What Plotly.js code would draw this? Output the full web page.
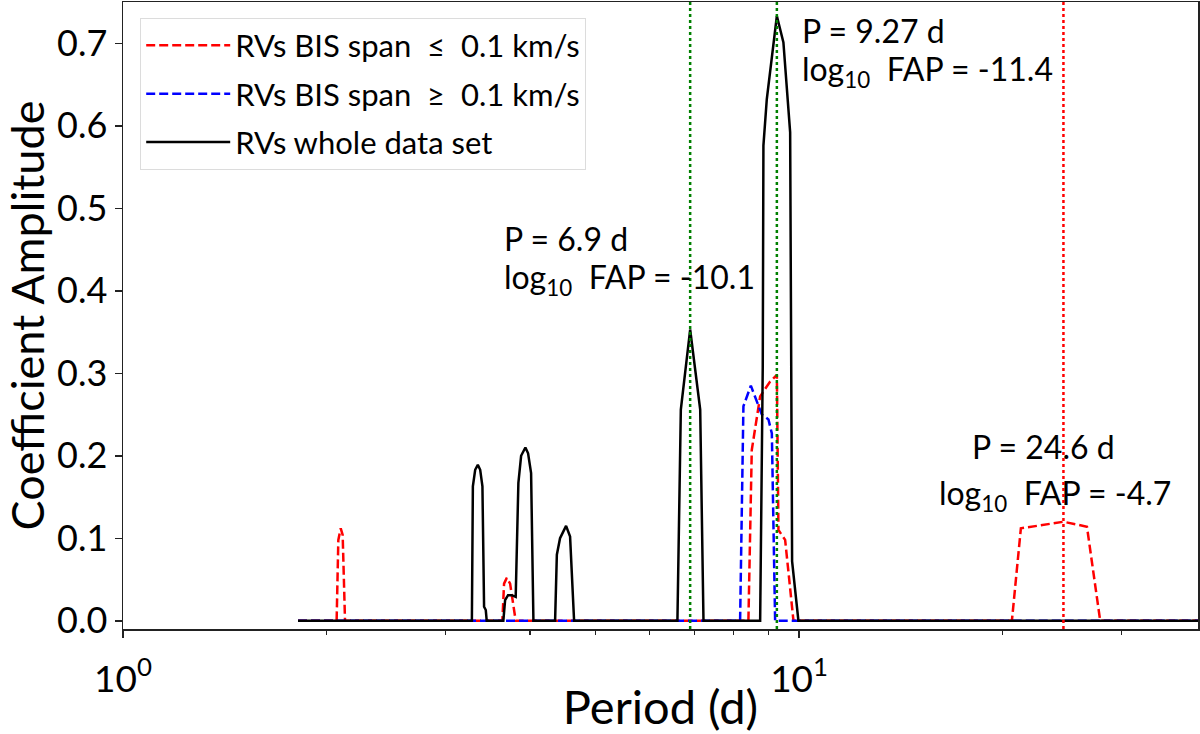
<!DOCTYPE html>
<html>
<head>
<meta charset="utf-8">
<script src="https://cdn.plot.ly/plotly-3.0.1.min.js"></script>
<style>
  html, body { margin: 0; padding: 0; background: #fff; }
  #myDiv { width: 1200px; height: 734px; }
</style>
</head>
<body>
<div id="myDiv"></div>
<script>
// periods (d) and coefficient amplitudes

// RVs whole data set (black)
let wholePeriod = [1.815, 3.281, 3.292, 3.318, 3.348, 3.375, 3.401, 3.420, 3.440, 3.451,
  3.652, 3.674, 3.711, 3.758, 3.809, 3.844, 3.880, 3.937, 3.973, 4.014, 4.046,
  4.356, 4.382, 4.430, 4.522, 4.584, 4.647,
  6.607, 6.684, 6.90, 7.140, 7.22,
  8.757, 8.835, 8.855, 8.957, 9.27, 9.479, 9.699, 9.748, 9.764, 9.976, 38.9];
let wholeAmp = [0, 0, 0.163, 0.183, 0.189, 0.183, 0.163, 0.017, 0.013, 0,
  0, 0.025, 0.031, 0.031, 0.029, 0.167, 0.200, 0.210, 0.203, 0.179, 0,
  0, 0.080, 0.100, 0.115, 0.102, 0,
  0, 0.256, 0.353, 0.256, 0,
  0, 0.308, 0.576, 0.632, 0.733, 0.701, 0.592, 0.300, 0.072, 0, 0];

// RVs BIS span <= 0.1 km/s (red)
let lowPeriod = [1.815, 2.070, 2.082, 2.099, 2.113, 2.130,
  3.640, 3.661, 3.695, 3.737, 3.809,
  8.414, 8.511, 8.757, 9.060, 9.27, 9.32, 9.535, 9.809,
  20.64, 21.28, 24.6, 26.65, 27.88, 38.9];
let lowAmp = [0, 0, 0.098, 0.112, 0.104, 0,
  0, 0.045, 0.052, 0.045, 0,
  0, 0.207, 0.272, 0.290, 0.298, 0.110, 0.098, 0,
  0, 0.112, 0.120, 0.114, 0, 0];

// RVs BIS span >= 0.1 km/s (blue)
let highPeriod = [1.815, 8.179, 8.272, 8.484, 8.807, 9.008, 9.113, 9.215, 38.9];
let highAmp = [0, 0, 0.26, 0.285, 0.25, 0.244, 0.227, 0, 0];

// detected periods (vertical dotted lines)
let peakPeriods = [6.9, 9.27, 24.6];
let peakColors = ["#008000", "#008000", "#ff0000"];
let peakLine1 = ["P = 6.9 d", "P = 9.27 d", "P = 24.6 d"];
let peakLine2 = ["log<sub>10</sub>  FAP = -10.1", "log<sub>10</sub>  FAP = -11.4", "log<sub>10</sub>  FAP = -4.7"];

let legendNames = [
  "RVs BIS span \u00a0\u2264\u00a0 0.1 km/s",
  "RVs BIS span \u00a0\u2265\u00a0 0.1 km/s",
  "RVs whole data set",
];

let yMin = -0.01;
let yMax = 0.75;
let font = "Lato, 'Open Sans', sans-serif";

let data = [
  {
    x: lowPeriod, y: lowAmp, name: legendNames[0], legendgroup: "a",
    mode: "lines", type: "scatter",
    line: { color: "#ff0000", width: 2.5, dash: "9px,4px" },
  },
  {
    x: highPeriod, y: highAmp, name: legendNames[1], legendgroup: "b",
    mode: "lines", type: "scatter",
    line: { color: "#0000ff", width: 2.5, dash: "9px,4px" },
  },
  {
    x: wholePeriod, y: wholeAmp, name: legendNames[2], legendgroup: "c",
    mode: "lines", type: "scatter",
    line: { color: "#000000", width: 2.5 },
  },
];

// vertical markers at the detected periods
peakPeriods.forEach((p, i) => {
  data.push({
    x: [p, p], y: [yMin, yMax],
    mode: "lines", type: "scatter", showlegend: false,
    line: { color: peakColors[i], width: 2.5, dash: "dot" },
  });
});

// annotation positions: [log10 x line1, y line1, y line2, anchor, log10 x line2]
let notePos = [
  [0.5602, 0.4631, 0.4137, "left", 0.5602],
  [1.002, 0.7149, 0.6663, "left", 1.002],
  [1.3614, 0.2113, 0.1526, "center", 1.3787],
];

let annotations = [];
notePos.forEach((pos, i) => {
  annotations.push({
    x: pos[0], y: pos[1], xref: "x", yref: "y", text: peakLine1[i],
    showarrow: false, xanchor: pos[3], yanchor: "middle",
    font: { family: font, size: 32, color: "#000" },
  });
  annotations.push({
    x: pos[4], y: pos[2], xref: "x", yref: "y", text: peakLine2[i],
    showarrow: false, xanchor: pos[3], yanchor: "middle",
    font: { family: font, size: 32, color: "#000" },
  });
});

let layout = {
  width: 1200,
  height: 734,
  margin: { l: 123, r: 2, t: 2, b: 105 },
  paper_bgcolor: "#fff",
  plot_bgcolor: "#fff",
  font: { family: font, color: "#000" },
  showlegend: true,
  hovermode: false,
  xaxis: {
    type: "log",
    range: [0, Math.log10(38.9)],
    tickmode: "array",
    tickvals: [1, 10],
    ticktext: ["10<sup>0</sup>", "10<sup>1</sup>"],
    ticks: "outside",
    ticklen: 7,
    tickwidth: 1.5,
    tickcolor: "#222",
    ticklabelstandoff: 10,
    tickfont: { family: font, size: 37 },
    minor: {
      ticks: "outside",
      ticklen: 4,
      tickwidth: 1.2,
      tickcolor: "#222",
      tickmode: "array",
      tickvals: [2, 3, 4, 5, 6, 7, 8, 9, 20, 30],
      showgrid: false,
    },
    showgrid: false,
    zeroline: false,
    showline: true,
    mirror: true,
    linecolor: "#222",
    linewidth: 1.5,
    title: { text: "Period (d)", font: { family: font, size: 47 }, standoff: 0 },
  },
  yaxis: {
    range: [yMin, yMax],
    tickmode: "array",
    tickvals: [0, 0.1, 0.2, 0.3, 0.4, 0.5, 0.6, 0.7],
    ticktext: ["0.0", "0.1", "0.2", "0.3", "0.4", "0.5", "0.6", "0.7"],
    ticks: "outside",
    ticklen: 7,
    tickwidth: 1.5,
    tickcolor: "#222",
    tickfont: { family: font, size: 36 },
    showgrid: false,
    zeroline: false,
    showline: true,
    mirror: true,
    linecolor: "#222",
    linewidth: 1.5,
    title: { text: "Coefficient Amplitude", font: { family: font, size: 45 }, standoff: 10 },
  },
  legend: {
    x: 0.016,
    y: 0.975,
    xanchor: "left",
    yanchor: "top",
    bgcolor: "#fff",
    bordercolor: "#dcdcdc",
    borderwidth: 1,
    traceorder: "grouped",
    tracegroupgap: 5,
    itemwidth: 84,
    font: { family: font, size: 31, color: "#000" },
  },
  annotations: annotations,
};

Plotly.newPlot("myDiv", data, layout, { staticPlot: true });
</script>
</body>
</html>
